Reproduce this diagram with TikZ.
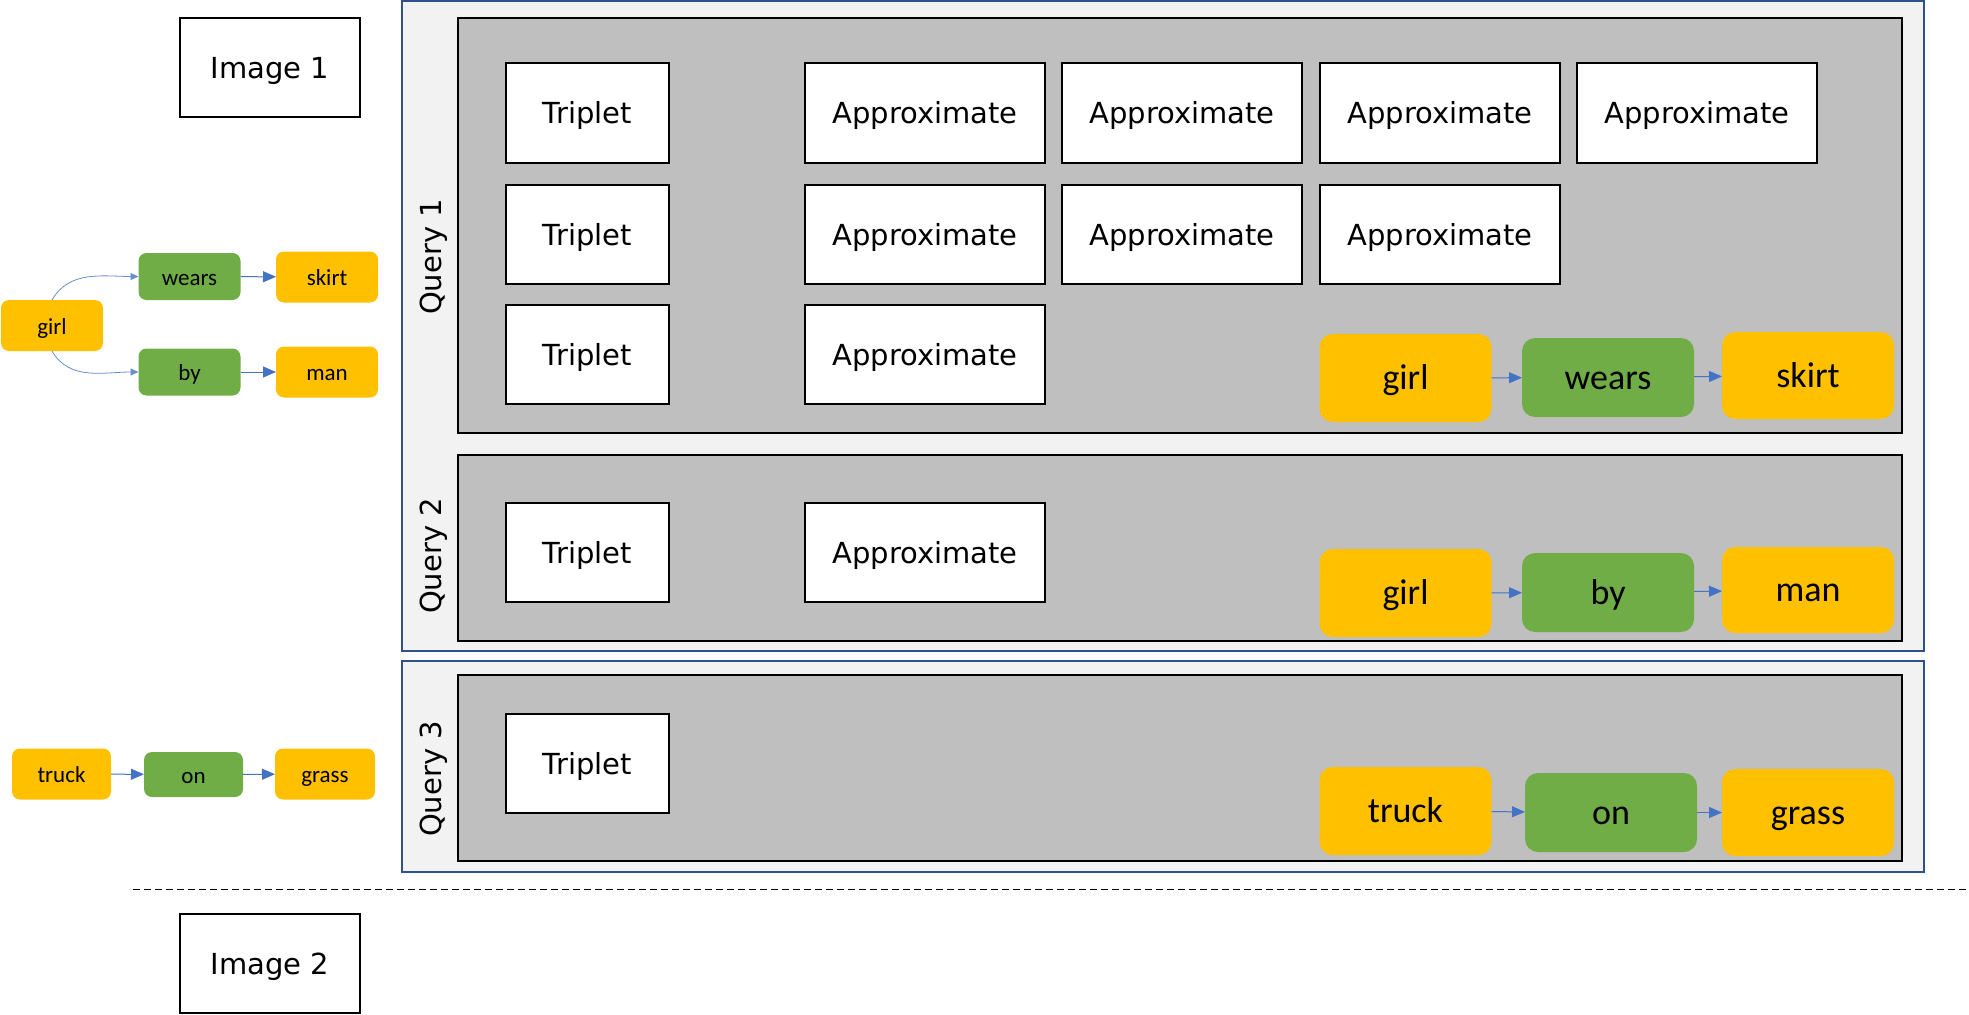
\documentclass[tikz,border=0pt]{standalone}
\usepackage{fontspec}
\setmainfont{DejaVu Sans}
\newfontfamily\calibri{Carlito}
\usetikzlibrary{arrows.meta}
\definecolor{entity}{HTML}{FFC000}
\definecolor{relation}{HTML}{70AD47}
\definecolor{panelgray}{HTML}{BFBFBF}
\definecolor{framefill}{HTML}{F2F2F2}
\definecolor{frameblue}{HTML}{2F528F}
\definecolor{arrowblue}{HTML}{4472C4}

\begin{document}
\begin{tikzpicture}[x=1pt, y=-1pt,
    every node/.style={inner sep=0pt, outer sep=0pt},
    bigfont/.style={font=\fontsize{29}{34}\selectfont},
    whitebox/.style={draw, line width=2pt, fill=white, minimum height=99pt, bigfont, text height=22pt, text depth=0pt},
    tripbox/.style={whitebox, minimum width=163pt},
    approxbox/.style={whitebox, minimum width=240pt},
    imgbox/.style={whitebox, minimum width=180pt},
    qframe/.style={draw=frameblue, line width=2pt, fill=framefill, minimum width=1522pt},
    qpanel/.style={draw, line width=2pt, fill=panelgray, minimum width=1444pt},
    ent/.style={fill=entity, rounded corners=13pt, minimum width=172pt, minimum height=87pt, font=\calibri\fontsize{36}{40}\selectfont, text height=23pt, text depth=0pt},
    rel/.style={ent, fill=relation, minimum height=79pt},
    sent/.style={fill=entity, rounded corners=8pt, minimum width=102pt, minimum height=51pt, font=\calibri\fontsize{23}{26}\selectfont, text height=17pt, text depth=0pt},
    srel/.style={sent, fill=relation, minimum height=47pt},
    link/.style={-{Triangle[length=13pt,width=11pt]}, draw=arrowblue, line width=1pt},
    thinlink/.style={-{Triangle[length=8pt,width=7pt]}, draw=arrowblue!80, line width=0.8pt}
  ]
    \useasboundingbox (0,0) rectangle (1969,1014);

    % Image boxes
    \node[imgbox] (img1) at (270,67.5) {Image 1};
    \node[imgbox] (img2) at (270,963.5) {Image 2};

    % Scene graph of image 1
    \node[sent] (sgirl) at (52,325.5) {girl};
    \node[srel] (swears) at (189.5,276.5) {wears};
    \node[sent] (sskirt) at (327,277) {skirt};
    \node[srel] (sby) at (189.5,372) {by};
    \node[sent] (sman) at (327,372) {man};
    \draw[thinlink] (sgirl.north) to[out=60, in=180] (swears.west);
    \draw[thinlink] (sgirl.south) to[out=-60, in=180] (sby.west);
    \draw[link] (swears) -- (sskirt);
    \draw[link] (sby) -- (sman);

    % Scene graph truck on grass
    \node[sent, minimum width=99pt] (struck) at (61.5,774) {truck};
    \node[srel, minimum width=99pt, minimum height=45pt] (son) at (193.5,774.5) {on};
    \node[sent, minimum width=100pt] (sgrass) at (325,774) {grass};
    \draw[link] (struck) -- (son);
    \draw[link] (son) -- (sgrass);

    % Frames
    \node[qframe, minimum height=650pt] (frame1) at (1163,326) {};
    \node[qframe, minimum height=211pt] (frame2) at (1163,766.5) {};

    % Query panels
    \node[qpanel, minimum height=415pt] (panel1) at (1180,225.5) {};
    \node[qpanel, minimum height=186pt] (panel2) at (1180,548) {};
    \node[qpanel, minimum height=186pt] (panel3) at (1180,768) {};
    \node[bigfont, rotate=90] (q1) at (434,257) {Query 1};
    \node[bigfont, rotate=90] (q2) at (434,556) {Query 2};
    \node[bigfont, rotate=90] (q3) at (434,779) {Query 3};

    % Query 1 results
    \node[tripbox] (t11) at (587.5,113) {Triplet};
    \node[tripbox] (t12) at (587.5,234) {Triplet};
    \node[tripbox] (t13) at (587.5,354.5) {Triplet};
    \node[approxbox] (a11) at (925,113) {Approximate};
    \node[approxbox] (a12) at (1182,113) {Approximate};
    \node[approxbox] (a13) at (1440,113) {Approximate};
    \node[approxbox] (a14) at (1697,113) {Approximate};
    \node[approxbox] (a21) at (925,234) {Approximate};
    \node[approxbox] (a22) at (1182,234) {Approximate};
    \node[approxbox] (a23) at (1440,234) {Approximate};
    \node[approxbox] (a31) at (925,354.5) {Approximate};

    % Query 2 results
    \node[tripbox] (t21) at (587.5,552.5) {Triplet};
    \node[approxbox] (a41) at (925,552.5) {Approximate};

    % Query 3 results
    \node[tripbox] (t31) at (587.5,763.5) {Triplet};

    % Query triplets
    \node[ent, minimum height=88pt] (g1) at (1405.5,378) {girl};
    \node[rel] (w1) at (1608,377.5) {wears};
    \node[ent] (k1) at (1808,375.5) {skirt};
    \draw[link] (g1) -- (w1);
    \draw[link] (w1) -- (k1);

    \node[ent, minimum height=88pt] (g2) at (1405.5,593) {girl};
    \node[rel] (b2) at (1608,592.5) {by};
    \node[ent, minimum height=86pt] (m2) at (1808,590) {man};
    \draw[link] (g2) -- (b2);
    \draw[link] (b2) -- (m2);

    \node[ent, minimum height=88pt] (tr3) at (1405.5,811) {truck};
    \node[rel] (o3) at (1611,812.5) {on};
    \node[ent] (gr3) at (1808,812.5) {grass};
    \draw[link] (tr3) -- (o3);
    \draw[link] (o3) -- (gr3);

    % Separator
    \coordinate (sepL) at (133,889);
    \coordinate (sepR) at (1969,889);
    \draw[dash pattern=on 7pt off 4pt, line width=1pt] (sepL) -- (sepR);
  \end{tikzpicture}
\end{document}
